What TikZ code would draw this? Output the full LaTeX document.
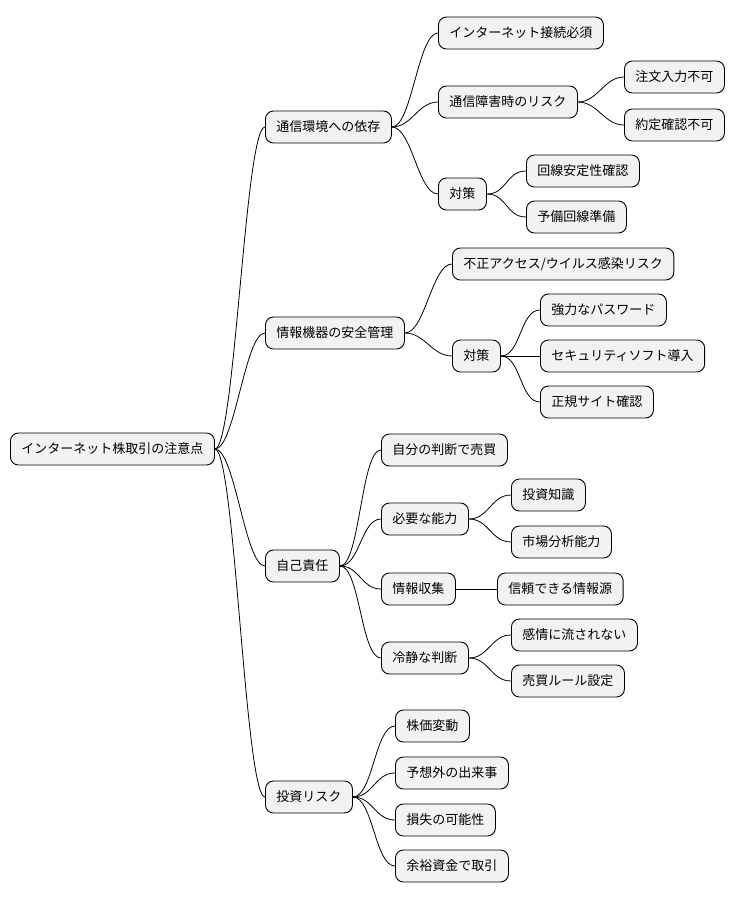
\documentclass[tikz,border=0pt]{standalone}
\usepackage{fontspec}
\setmainfont{Noto Sans CJK JP}
\usetikzlibrary{positioning}
\tikzset{
  topic/.style={draw, rectangle, rounded corners=8pt, fill=gray!10, line width=0.9pt,
    minimum height=32pt, inner xsep=11pt, anchor=west, font=\fontsize{13pt}{15pt}\selectfont},
  link/.style={draw, line width=0.8pt}
}
\begin{document}
\begin{tikzpicture}[x=1pt, y=-1pt]
    \useasboundingbox (0,0) rectangle (738,900);
    % Place nodes
    \node [topic] (root) at (10,449) {インターネット株取引の注意点};
    \node [topic] (net) at (265,127) {通信環境への依存};
    \node [topic] (dev) at (265,333) {情報機器の安全管理};
    \node [topic] (self) at (265,566) {自己責任};
    \node [topic] (risk) at (265,797) {投資リスク};
    \node [topic] (conn) at (438,33) {インターネット接続必須};
    \node [topic] (fail) at (438,102) {通信障害時のリスク};
    \node [topic] (meas1) at (438,194) {対策};
    \node [topic] (order) at (624,77) {注文入力不可};
    \node [topic] (exec) at (624,125) {約定確認不可};
    \node [topic] (line) at (526,171) {回線安定性確認};
    \node [topic] (spare) at (526,217) {予備回線準備};
    \node [topic] (virus) at (452,264) {不正アクセス/ウイルス感染リスク};
    \node [topic] (meas2) at (452,356) {対策};
    \node [topic] (pass) at (540,310) {強力なパスワード};
    \node [topic] (soft) at (540,356) {セキュリティソフト導入};
    \node [topic] (site) at (540,402) {正規サイト確認};
    \node [topic] (judge) at (381,450) {自分の判断で売買};
    \node [topic] (skill) at (381,519) {必要な能力};
    \node [topic] (info) at (381,589) {情報収集};
    \node [topic] (calm) at (381,658) {冷静な判断};
    \node [topic] (know) at (511,495) {投資知識};
    \node [topic] (market) at (511,542) {市場分析能力};
    \node [topic] (source) at (497,589) {信頼できる情報源};
    \node [topic] (emo) at (511,635) {感情に流されない};
    \node [topic] (rule) at (511,681) {売買ルール設定};
    \node [topic] (price) at (395,726) {株価変動};
    \node [topic] (event) at (395,773) {予想外の出来事};
    \node [topic] (loss) at (395,820) {損失の可能性};
    \node [topic] (fund) at (395,866) {余裕資金で取引};
    % Draw edges
    \foreach \p/\c in {root/net, root/dev, root/self, root/risk,
        net/conn, net/fail, net/meas1, fail/order, fail/exec, meas1/line, meas1/spare,
        dev/virus, dev/meas2, meas2/pass, meas2/soft, meas2/site,
        self/judge, self/skill, self/info, self/calm, skill/know, skill/market,
        info/source, calm/emo, calm/rule,
        risk/price, risk/event, risk/loss, risk/fund}
      \path [link] (\p.east) .. controls +(20,0) and +(-20,0) .. (\c.west);
\end{tikzpicture}
\end{document}
